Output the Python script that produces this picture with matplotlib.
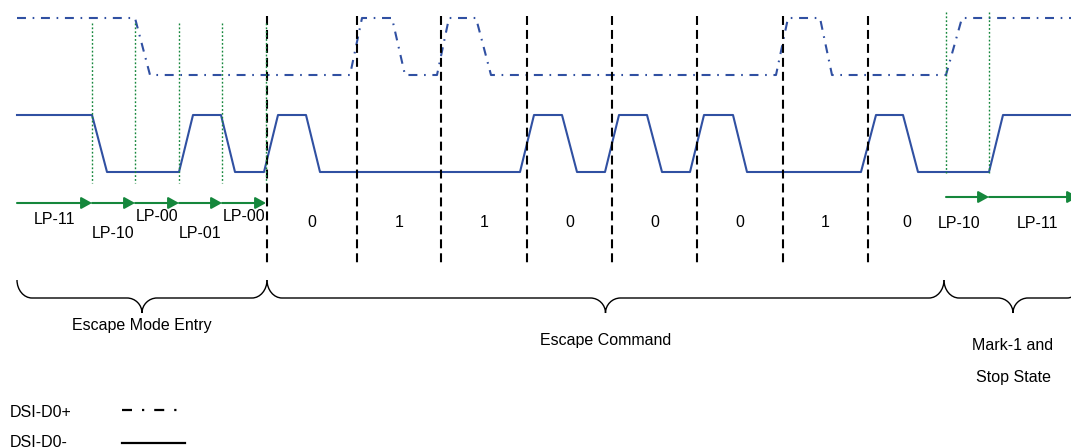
import numpy as np
import matplotlib
matplotlib.use('Agg')
import matplotlib.pyplot as plt
from matplotlib.path import Path
import matplotlib.patches as mpatches

plt.rcParams['font.family'] = ['Liberation Sans', 'DejaVu Sans']

# Waveforms: transition times and logic levels
d0p_t = [17, 135, 150, 350, 362, 392, 405, 437, 449, 476, 491,
         776, 788, 820, 832, 946, 962, 1071]
d0p_lvl = [1, 1, 0, 0, 1, 1, 0, 0, 1, 1, 0, 0, 1, 1, 0, 0, 1, 1]

d0m_t = [17, 92, 107, 179, 193, 221, 235, 264, 278, 306, 320,
         520, 534, 562, 577, 605, 619, 647, 662, 690, 704, 733, 747,
         861, 876, 903, 918, 989, 1003, 1071]
d0m_lvl = [1, 1, 0, 0, 1, 1, 0, 0, 1, 1, 0, 0, 1, 1, 0, 0, 1, 1, 0, 0,
           1, 1, 0, 0, 1, 1, 0, 0, 1, 1]

# Escape mode entry states
lp_edges = [17, 92, 135, 179, 222, 266]
lp_labels = ['LP-11', 'LP-10', 'LP-00', 'LP-01', 'LP-00']

# Escape command bits
bit_edges = [267, 357, 441, 527, 612, 697, 783, 868, 946]
bits = [0, 1, 1, 0, 0, 0, 1, 0]

# Mark-1 / stop state
stop_edges = [946, 989, 1078]
stop_labels = ['LP-10', 'LP-11']

# Phases (braces)
phase_edges = [17, 267, 944, 1082]
phase_labels = ['Escape Mode Entry', 'Escape Command', 'Mark-1 and\n\nStop State']

blue = '#3050A2'
green = '#15873C'
fs = 11.5

fig = plt.figure(figsize=(10.71, 4.48), dpi=100)
ax = fig.add_axes([0, 0, 1, 1])
ax.set_xlim(0, 1071)
ax.set_ylim(448, 0)
ax.axis('off')

amp = 57
ax.plot(d0p_t, 75 - amp * np.array(d0p_lvl), color=blue, lw=1.5,
        linestyle=(0, (4.3, 3.2, 0.8, 3.2)), solid_capstyle='butt')
ax.plot(d0m_t, 172 - amp * np.array(d0m_lvl), color=blue, lw=1.5)

# bit boundaries
for x in bit_edges[:-1]:
    ax.plot([x, x], [16, 265], color='black', lw=1.5, linestyle=(0, (4.3, 2.4)))

# LP state markers
for x in lp_edges[1:]:
    ax.plot([x, x], [23, 183], color=green, lw=1.0, linestyle=(0, (1.3, 1.5)))
for x in stop_edges[:-1]:
    ax.plot([x, x], [12, 173], color=green, lw=1.0, linestyle=(0, (1.3, 1.5)))


def arrow(x0, x1, y):
    ax.annotate('', xy=(x1, y), xytext=(x0, y), annotation_clip=False,
                arrowprops=dict(arrowstyle='-|>,head_length=0.45,head_width=0.25',
                                mutation_scale=14, color=green, lw=1.5,
                                shrinkA=0, shrinkB=0))


lp_base = [224, 238, 221, 238, 221]
for i, lab in enumerate(lp_labels):
    arrow(lp_edges[i], lp_edges[i + 1], 203)
    ax.text((lp_edges[i] + lp_edges[i + 1]) / 2, lp_base[i], lab,
            ha='center', va='baseline', fontsize=fs)

stop_dx = [-8, 4]
for i, lab in enumerate(stop_labels):
    arrow(stop_edges[i], stop_edges[i + 1], 197)
    ax.text((stop_edges[i] + stop_edges[i + 1]) / 2 + stop_dx[i], 228, lab,
            ha='center', va='baseline', fontsize=fs)

for i, b in enumerate(bits):
    ax.text((bit_edges[i] + bit_edges[i + 1]) / 2, 227, str(b),
            ha='center', va='baseline', fontsize=fs)


def brace(x0, x1, yt=280, ym=298, yb=313, r=15):
    xm = (x0 + x1) / 2
    k = 0.55
    verts = [(x0, yt),
             (x0, yt + k * (ym - yt)), (x0 + r - k * r, ym), (x0 + r, ym),
             (xm - r, ym),
             (xm - r + k * r, ym), (xm, yb - k * (yb - ym)), (xm, yb),
             (xm, yb - k * (yb - ym)), (xm + r - k * r, ym), (xm + r, ym),
             (x1 - r, ym),
             (x1 - r + k * r, ym), (x1, yt + k * (ym - yt)), (x1, yt)]
    codes = [Path.MOVETO] + [Path.CURVE4] * 3 + [Path.LINETO] + \
            [Path.CURVE4] * 3 + [Path.CURVE4] * 3 + [Path.LINETO] + [Path.CURVE4] * 3
    ax.add_patch(mpatches.PathPatch(Path(verts, codes), fill=False,
                                    edgecolor='black', lw=1.0))


phase_base = [330, 345, 350]
for i, lab in enumerate(phase_labels):
    brace(phase_edges[i], phase_edges[i + 1])
    xm = (phase_edges[i] + phase_edges[i + 1]) / 2
    if '\n' in lab:
        lines = [l for l in lab.split('\n') if l]
        ax.text(xm, 350, lines[0], ha='center', va='baseline', fontsize=fs)
        ax.text(xm, 382, lines[1], ha='center', va='baseline', fontsize=fs)
    else:
        ax.text(xm, phase_base[i], lab, ha='center', va='baseline', fontsize=fs)

# legend
ax.text(10, 417, 'DSI-D0+', ha='left', va='baseline', fontsize=fs)
ax.plot([122, 185], [410, 410], color='black', lw=1.6,
        linestyle=(0, (4.5, 4.5, 1, 4.5)))
ax.text(10, 447, 'DSI-D0-', ha='left', va='baseline', fontsize=fs)
ax.plot([122, 185], [443, 443], color='black', lw=1.6)

fig.savefig('out.png', dpi=100)
